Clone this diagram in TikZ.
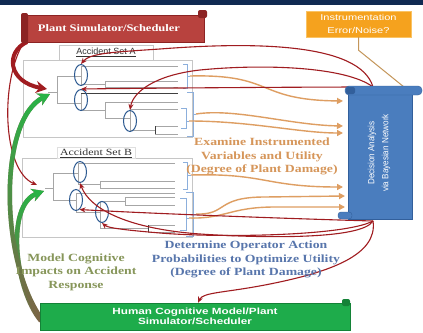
\documentclass[tikz,border=0pt]{standalone}
\usepackage{fontspec}
\setmainfont{Liberation Serif}
\setsansfont{Liberation Sans}
\newfontfamily\wideserif[FakeStretch=1.25]{Liberation Serif}
\newfontfamily\widesans[FakeStretch=1.3]{Liberation Sans}
\newfontfamily\narrowsans[FakeStretch=0.9]{Liberation Sans}
\usetikzlibrary{arrows.meta,shapes.geometric,fadings}

\definecolor{navyband}{RGB}{16,42,82}
\definecolor{plantfill}{RGB}{184,66,62}
\definecolor{plantedge}{RGB}{140,35,35}
\definecolor{arrowred}{RGB}{160,28,32}
\definecolor{tanline}{RGB}{222,158,98}
\definecolor{instline}{RGB}{196,150,90}
\definecolor{instfill}{RGB}{245,162,30}
\definecolor{instedge}{RGB}{250,195,100}
\definecolor{decfill}{RGB}{74,125,190}
\definecolor{decedge}{RGB}{50,95,155}
\definecolor{greenfill}{RGB}{30,172,75}
\definecolor{greenedge}{RGB}{20,130,55}
\definecolor{nodeblue}{RGB}{45,90,145}
\definecolor{bracketblue}{RGB}{140,175,220}
\definecolor{examtext}{RGB}{214,150,90}
\definecolor{dettext}{RGB}{88,118,172}
\definecolor{modeltext}{RGB}{135,150,90}
\definecolor{arrowgreen}{RGB}{40,180,70}
\definecolor{arrowbrown}{RGB}{125,100,70}

\begin{document}
\begin{tikzpicture}[x=1pt,y=-1pt,
  treeline/.style={draw=gray!70, line width=0.8pt},
  darkline/.style={draw=black!75, line width=0.9pt},
  evnode/.style={ellipse, draw=nodeblue, line width=1pt, minimum width=13pt, minimum height=21pt, inner sep=0pt},
  bracketline/.style={draw=bracketblue, line width=0.8pt},
  redarrow/.style={draw=arrowred, line width=1.1pt, -{Stealth[length=6pt,width=5pt]}},
  tanarrow/.style={draw=tanline, line width=1.4pt, -{Triangle[length=6pt,width=6pt]}},
  fatred/.style={draw=arrowred, line width=4pt, -{Stealth[length=11pt,width=12pt]}},
  fatgreen/.style={line width=4.5pt, -{Stealth[length=12pt,width=13pt]}},
  setbox/.style={draw=gray!45, fill=white, line width=0.8pt, inner sep=0pt},
  biglabel/.style={font=\wideserif\bfseries\fontsize{11}{13.5}\selectfont, align=center}
]
\useasboundingbox (0,0) rectangle (423,332);
\fill[white] (0,0) rectangle (423,332);
\fill[navyband] (0,0) rectangle (423,5);

% accident set frames
\node[setbox, minimum width=169pt, minimum height=77pt] (setA) at (107.5,98.5) {};
\node[setbox, minimum width=94pt, minimum height=15pt, font=\sffamily\fontsize{9}{10}\selectfont, text=black!80] (tabA) at (106,52.5) {\underline{Accident Set A}};
\node[setbox, minimum width=170pt, minimum height=79pt] (setB) at (107,197.5) {};
\node[setbox, draw=gray!25, minimum width=78pt, minimum height=11pt, font=\wideserif\fontsize{9.5}{10}\selectfont, text=black!80] (tabB) at (96,153) {\underline{Accident Set B}};

% event tree A
\draw[treeline] (48,92) -- (57,92) (57,76) -- (57,103) (57,76) -- (81,76) (57,103) -- (81,103);
\draw[treeline] (81,66) -- (81,84) (81,66) -- (178,66) (81,84) -- (105,84)
  (105,81) -- (105,87) (105,81) -- (178,81) (105,87) -- (178,87);
\draw[treeline] (81,93) -- (81,110) (81,110) -- (105,110)
  (105,102) -- (105,118) (105,102) -- (178,102) (105,118) -- (130,118);
\draw[darkline] (81,93) -- (178,93);
\draw[treeline] (130,109) -- (130,130) (130,109) -- (178,109) (130,130) -- (155,130)
  (155,126) -- (178,126) (155,134) -- (178,134);
\draw[darkline] (155,126) -- (155,134);
\node[evnode] (A1) at (81,75) {};
\node[evnode] (A2) at (81,100) {};
\node[evnode] (A3) at (130,121) {};
\draw[bracketline] (183,64) -- (187,64) -- (187,88) -- (183,88) (187,76) -- (190,76);
\draw[bracketline] (187,92) -- (193,92) -- (193,136) -- (187,136) (193,114) -- (196,114);
\draw[bracketline] (181,108) -- (186,108) -- (186,128) -- (181,128) (186,121) -- (189,121);

% event tree B
\draw[treeline] (45,188) -- (53,188) (53,173) -- (53,200) (53,173) -- (78,173) (53,200) -- (76,200);
\draw[treeline] (78,163) -- (78,184) (78,163) -- (175,163) (78,184) -- (100,184)
  (100,181) -- (100,188) (100,181) -- (175,181) (100,188) -- (175,188);
\draw[treeline] (76,193) -- (76,212) (76,193) -- (175,193) (76,212) -- (100,212);
\draw[treeline] (100,201) -- (100,228) (100,201) -- (125,201) (125,197) -- (125,205)
  (125,197) -- (175,197) (125,205) -- (175,205) (100,228) -- (148,228)
  (148,225) -- (175,225) (148,232) -- (175,232);
\draw[darkline] (148,225) -- (148,232);
\node[evnode] (B1) at (80,172) {};
\node[evnode] (B2) at (76,200) {};
\node[evnode] (B3) at (102,212) {};
\draw[bracketline] (183,162) -- (187,162) -- (187,189) -- (183,189) (187,175) -- (191,175);
\draw[bracketline] (186,192) -- (193,192) -- (193,236) -- (186,236) (193,214) -- (196,214);
\draw[bracketline] (180,198) -- (186,198) -- (186,230) -- (180,230) (186,218) -- (189,218);

% connector end points
\coordinate (brA1) at (190,76);
\coordinate (brA2) at (196,114);
\coordinate (brA3) at (189,121);
\coordinate (brB1) at (191,175);
\coordinate (brB2) at (196,214);
\coordinate (brB3) at (189,218);
\coordinate (inA1) at (343,101);
\coordinate (inA2) at (343,126);
\coordinate (inA3) at (343,133);
\coordinate (inB1) at (343,187);
\coordinate (inB2) at (345,196);
\coordinate (inB3) at (345,207);
\coordinate (decTopL) at (373,87);
\coordinate (decTopR) at (404,87);
\coordinate (decBotL) at (373,221);
\coordinate (rootAred) at (47,89);
\coordinate (rootAgreen) at (50,94);
\coordinate (rootBred) at (37,185);
\coordinate (rootBgreen) at (44,191);
\coordinate (plantOut) at (27,42);
\coordinate (plantOutB) at (24,42);
\coordinate (humanOut) at (41,318);
\coordinate (humanOutB) at (41,321);

% observed variables to the decision analysis
\draw[tanarrow] (brA1) .. controls (275,74) and (255,100) .. (inA1);
\draw[tanarrow] (brA2) .. controls (235,108) and (290,125) .. (inA2);
\draw[tanarrow] (brA3) .. controls (250,121) and (300,133) .. (inA3);
\draw[tanarrow] (brB1) .. controls (265,173) and (265,187) .. (inB1);
\draw[tanarrow] (brB2) .. controls (228,215) and (215,197) .. (265,197) -- (inB2);
\draw[tanarrow] (brB3) .. controls (225,219) and (230,207) .. (275,207) -- (inB3);

% operator actions fed back into the trees
\draw[redarrow] (decTopL) .. controls (360,42) and (250,42) .. (160,49) .. controls (115,52) and (90,53) .. (A1.north);
\draw[redarrow] (decTopL) .. controls (345,66) and (260,64) .. (200,70) .. controls (155,75) and (133,92) .. (A3.north);
\draw[redarrow] (decTopL) .. controls (300,87) and (160,88) .. (A2.north);
\draw[redarrow] (decBotL) .. controls (362,240) and (260,238) .. (200,234) .. controls (130,229) and (90,210) .. (B1.south);
\draw[redarrow] (decBotL) .. controls (300,219) and (160,214) .. (B2.-70);
\draw[redarrow] (decBotL) .. controls (345,236) and (220,238) .. (160,233) .. controls (125,230) and (108,228) .. (B3.south);

% simulator inputs on the left
\draw[redarrow] (plantOutB) .. controls (0,80) and (2,170) .. (rootBred);
\draw[fatred] (plantOut) .. controls (5,52) and (8,82) .. (rootAred);
\draw[fatgreen, draw=arrowbrown] (humanOutB) .. controls (15,290) and (5,205) .. (rootBgreen);
\draw[fatgreen, draw=arrowgreen, path fading=south] (humanOutB) .. controls (15,290) and (5,205) .. (rootBgreen);
\draw[fatgreen, draw=arrowbrown] (humanOut) .. controls (0,260) and (-2,120) .. (rootAgreen);
\draw[fatgreen, draw=arrowgreen, path fading=south] (humanOut) .. controls (0,260) and (-2,120) .. (rootAgreen);

% plant simulator banner
\node[draw=plantedge, fill=plantfill, minimum width=180pt, minimum height=27pt, inner sep=0pt,
  text=white, font=\wideserif\bfseries\fontsize{10}{12}\selectfont] (plant) at (114,28.5) {\hspace*{-10pt}Plant Simulator/Scheduler};
\fill[plantedge, rounded corners=2pt] (21,13) rectangle (28,43);
\fill[plantedge, rounded corners=2pt] (198,10) rectangle (207,18);

% instrumentation note
\node[draw=instedge, fill=instfill, minimum width=105pt, minimum height=26pt, inner sep=0pt,
  text=white, font=\widesans\fontsize{8.5}{13}\selectfont, align=center] (inst) at (358.5,24) {Instrumentation\\Error/Noise?};
\draw[instline, line width=1pt] (inst.south) -- ++(0,13) -- (decTopR);

% decision analysis scroll
\node[draw=decedge, fill=decfill, minimum width=64pt, minimum height=131pt, inner sep=0pt] (dec) at (380,153.5) {};
\draw[draw=decedge, fill=decfill, rounded corners=4pt] (345,86) rectangle (422,95);
\fill[decedge, rounded corners=2pt] (346,87) rectangle (355,94);
\draw[draw=decedge, fill=decfill, rounded corners=3pt] (338,212) rectangle (352,219);
\node[rotate=90, text=white, font=\narrowsans\fontsize{9}{14}\selectfont, align=center] (decText) at (379,153) {Decision Analysis\\via Bayesian Network};

% human cognitive model banner
\node[draw=greenedge, fill=greenfill, minimum width=310pt, minimum height=27pt, inner sep=0pt,
  text=white, font=\widesans\bfseries\fontsize{9}{10.5}\selectfont, align=center] (human) at (195,316.5) {Human Cognitive Model/Plant\\Simulator/Scheduler};
\fill[greenedge, rounded corners=2pt] (342,299) rectangle (350,306);
\draw[redarrow] (decBotL) .. controls (378,255) and (330,272) .. (270,284) .. controls (225,293) and (203,292) .. ([xshift=3pt]human.north);

% annotations
\node[biglabel, text=examtext] (exam) at (262,156.5) {Examine Instrumented\\Variables and Utility\\(Degree of Plant Damage)};
\node[biglabel, text=dettext] (det) at (246,259.5) {Determine Operator Action\\Probabilities to Optimize Utility\\(Degree of Plant Damage)};
\node[biglabel, text=modeltext] (model) at (76,272) {Model Cognitive\\Impacts on Accident\\Response};
\end{tikzpicture}
\end{document}
